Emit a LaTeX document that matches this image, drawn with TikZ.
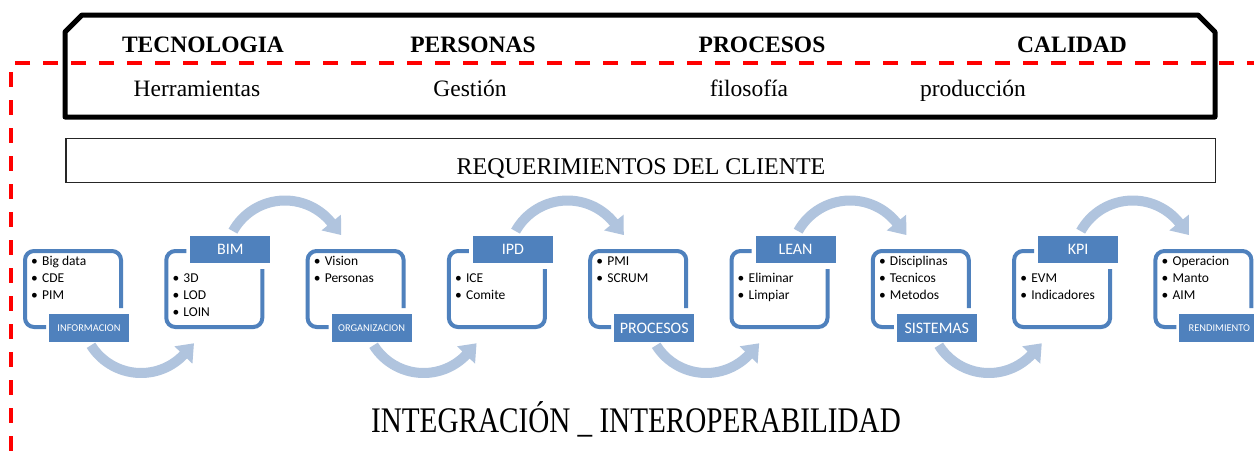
\documentclass[tikz,border=0pt]{standalone}
\usepackage{fontspec}
\setmainfont{Liberation Serif}
\newfontfamily\cardfont{Carlito}
\definecolor{cardblue}{HTML}{4F81BD}
\definecolor{arrowblue}{HTML}{B0C4DE}
\definecolor{dashred}{HTML}{FF0000}
\tikzset{
  cardline/.style={draw=cardblue, line width=4pt, rounded corners=9pt},
  lab/.style={fill=cardblue, text=white, minimum width=80pt, minimum height=27.5pt, inner sep=0pt,
    font=\cardfont\fontsize{16}{16}\selectfont},
  smalllab/.style={lab, font=\cardfont\fontsize{10.4}{10.4}\selectfont},
  item/.style={anchor=base west, inner sep=0pt, font=\cardfont\fontsize{13.5}{16}\selectfont},
  flow/.style={fill=arrowblue},
  headtxt/.style={font=\bfseries\fontsize{23.5}{24}\selectfont, anchor=base, inner sep=0pt},
  subtxt/.style={font=\fontsize{23.5}{24}\selectfont, anchor=base, inner sep=0pt},
}
% bottom-label card: #1 index, #2 label, #3 label style, #4 items
\newcommand\cardB[4]{%
  \pgfmathsetmacro\L{23+141.3*#1}
  \draw[cardline] (\L+23,327) -- (\L+2,327) -- (\L+2,251) -- (\L+98,251) -- (\L+98,308);
  \node[#3] (lab#1) at (\L+66,328) {#2};
  \foreach \t [count=\k] in {#4} {
    \node[item] (it#1-\k) at (\L+8,248+17*\k) {\makebox[11pt][l]{\textbullet}\t};
  }
}
% top-label card
\newcommand\cardT[4]{%
  \pgfmathsetmacro\L{23+141.3*#1}
  \draw[cardline] (\L+22,251) -- (\L+2,251) -- (\L+2,327) -- (\L+98,327) -- (\L+98,269);
  \node[#3] (lab#1) at (\L+66,249.5) {#2};
  \foreach \t [count=\k] in {#4} {
    \node[item] (it#1-\k) at (\L+8,265+17*\k) {\makebox[11pt][l]{\textbullet}\t};
  }
}
\newcommand\toparrow[1]{%
  \begin{scope}[shift={(#1,260)}]
    \fill[flow] (-151:64.5) arc[start angle=-151, end angle=-39, radius=64.5]
      -- (-39:72) -- (-24:61.5) -- (-39:47) -- (-39:54.5)
      arc[start angle=-39, end angle=-151, radius=54.5] -- cycle;
  \end{scope}}
\newcommand\botarrow[1]{%
  \begin{scope}[shift={(#1,314)}]
    \fill[flow] (148:64) arc[start angle=148, end angle=44, radius=64]
      -- (44:71.5) -- (29:60.5) -- (44:46.5) -- (44:54)
      arc[start angle=44, end angle=148, radius=54] -- cycle;
  \end{scope}}
\begin{document}
\begin{tikzpicture}[x=1pt,y=-1pt]
\useasboundingbox (0,0) rectangle (1254,451);
\fill[white] (0,0) rectangle (1254,451);

% top framed box
\draw[line width=5pt, line join=round] (65,117) -- (65,32) -- (82,15) -- (1198,15) -- (1215,32) -- (1215,117) -- cycle;
\node[headtxt] (tec) at (203,52) {TECNOLOGIA};
\node[headtxt] (per) at (473,52) {PERSONAS};
\node[headtxt] (pro) at (762,52) {PROCESOS};
\node[headtxt] (cal) at (1072,52) {CALIDAD};
\node[subtxt] (herr) at (197,96) {Herramientas};
\node[subtxt] (ges) at (470,96) {Gestión};
\node[subtxt] (fil) at (749,96) {filosofía};
\node[subtxt] (prod) at (973,96) {producción};

% red dashed frame
\draw[dashred, line width=3.5pt, dash pattern=on 15pt off 13pt] (1262,63) -- (11,63) -- (11,460);

% requirements box
\draw[line width=1.2pt, draw=black!85] (66,138.5) rectangle (1215.5,182.5);
\node[font=\fontsize{24}{24}\selectfont, anchor=base, inner sep=0pt] (req) at (641,174) {REQUERIMIENTOS DEL CLIENTE};

% arrows
\toparrow{285}
\toparrow{567.6}
\toparrow{850.2}
\toparrow{1132.8}
\botarrow{141}
\botarrow{423.6}
\botarrow{706.2}
\botarrow{988.8}

% cards
\cardB{0}{INFORMACION}{smalllab}{Big data,CDE,PIM}
\cardT{1}{BIM}{lab}{3D,LOD,LOIN}
\cardB{2}{ORGANIZACION}{smalllab}{Vision,Personas}
\cardT{3}{IPD}{lab}{ICE,Comite}
\cardB{4}{PROCESOS}{lab}{PMI,SCRUM}
\cardT{5}{LEAN}{lab}{Eliminar,Limpiar}
\cardB{6}{SISTEMAS}{lab}{Disciplinas,Tecnicos,Metodos}
\cardT{7}{KPI}{lab}{EVM,Indicadores}
\cardB{8}{RENDIMIENTO}{smalllab}{Operacion,Manto,AIM}

% bottom title
\node[anchor=base, inner sep=0pt] (integ) at (636,432)
  {\scalebox{0.81}[1]{\fontsize{36}{36}\selectfont INTEGRACIÓN \_ INTEROPERABILIDAD}};
\end{tikzpicture}
\end{document}
